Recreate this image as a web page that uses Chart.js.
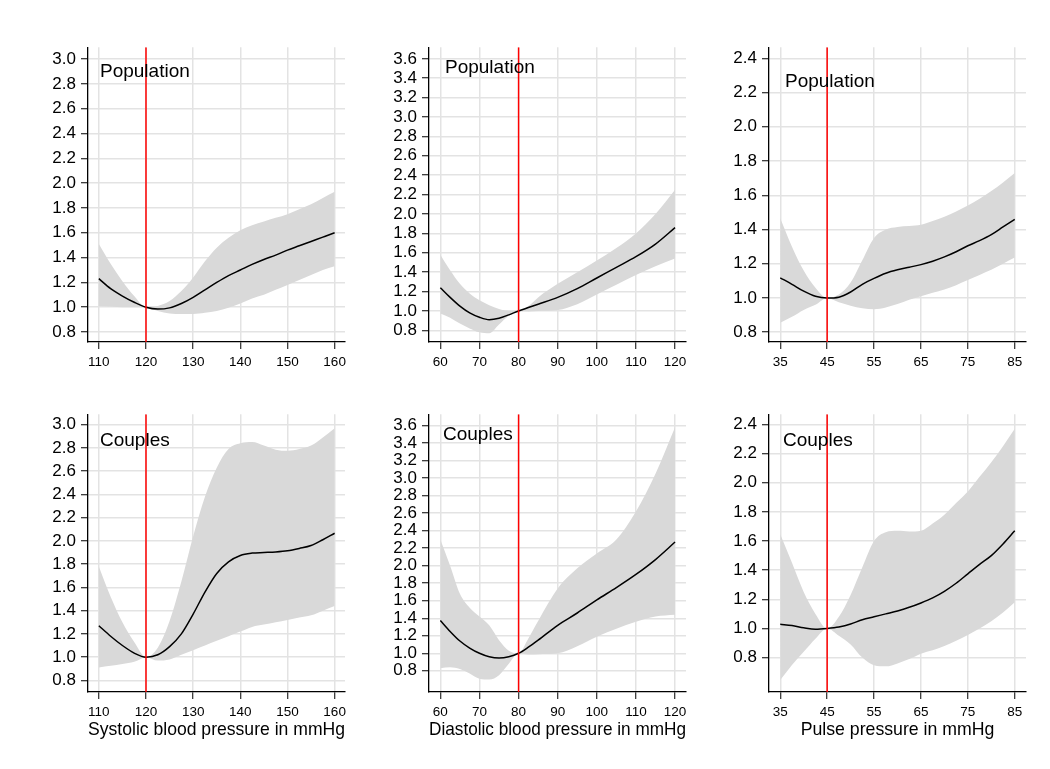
<!DOCTYPE html>
<html>
<head>
<meta charset="utf-8">
<script src="https://cdn.jsdelivr.net/npm/chart.js@4.4.0/dist/chart.umd.min.js"></script>
<style>
  body { margin: 0; background: #fff; }
  .panel { position: absolute; }
</style>
</head>
<body>
<script>
// --- x grids ---
const sbpX = [110, 112.5, 115, 117.5, 120, 122.5, 125, 127.5, 130, 132.5, 135, 137.5, 140, 142.5, 145, 147.5, 150, 152.5, 155, 157.5, 160];
const dbpX = [60, 62.5, 65, 67.5, 70, 72.5, 75, 77.5, 80, 82.5, 85, 90, 95, 100, 105, 110, 115, 120];
const ppX  = [35, 37.5, 40, 42.5, 45, 47.5, 50, 52.5, 55, 57.5, 60, 62.5, 65, 67.5, 70, 72.5, 75, 77.5, 80, 82.5, 85];

// --- systolic, population ---
const sbpPopEst = [1.23, 1.15, 1.09, 1.04, 1.00, 0.985, 0.995, 1.03, 1.08, 1.14, 1.20, 1.255, 1.30, 1.345, 1.385, 1.42, 1.46, 1.495, 1.53, 1.565, 1.60];
const sbpPopHi  = [1.51, 1.35, 1.21, 1.09, 1.00, 1.01, 1.05, 1.13, 1.24, 1.37, 1.48, 1.56, 1.62, 1.66, 1.69, 1.72, 1.75, 1.79, 1.83, 1.88, 1.93];
const sbpPopLo  = [1.01, 1.005, 1.00, 1.00, 1.00, 0.97, 0.95, 0.945, 0.945, 0.955, 0.97, 0.995, 1.03, 1.07, 1.10, 1.14, 1.18, 1.22, 1.26, 1.30, 1.33];
// --- systolic, couples ---
const sbpCplEst = [1.27, 1.18, 1.10, 1.035, 1.00, 1.02, 1.09, 1.20, 1.37, 1.56, 1.72, 1.82, 1.875, 1.895, 1.90, 1.905, 1.915, 1.935, 1.96, 2.01, 2.066];
const sbpCplHi  = [1.78, 1.52, 1.30, 1.13, 1.00, 1.08, 1.31, 1.65, 2.04, 2.38, 2.63, 2.79, 2.84, 2.85, 2.82, 2.785, 2.775, 2.79, 2.82, 2.89, 2.97];
const sbpCplLo  = [0.91, 0.925, 0.94, 0.96, 1.00, 0.97, 0.98, 1.02, 1.06, 1.10, 1.14, 1.18, 1.22, 1.26, 1.28, 1.30, 1.32, 1.34, 1.36, 1.40, 1.44];

// --- diastolic, population ---
const dbpPopEst = [1.24, 1.14, 1.05, 0.98, 0.935, 0.91, 0.925, 0.96, 1.00, 1.035, 1.07, 1.14, 1.23, 1.34, 1.45, 1.56, 1.69, 1.86];
const dbpPopHi  = [1.58, 1.42, 1.28, 1.18, 1.11, 1.06, 1.02, 1.00, 1.00, 1.05, 1.14, 1.28, 1.40, 1.52, 1.65, 1.80, 2.00, 2.25];
const dbpPopLo  = [0.975, 0.93, 0.87, 0.82, 0.78, 0.77, 0.86, 0.95, 1.00, 0.995, 1.00, 1.01, 1.07, 1.17, 1.27, 1.37, 1.46, 1.54];
// --- diastolic, couples ---
const dbpCplEst = [1.375, 1.25, 1.14, 1.06, 1.00, 0.96, 0.945, 0.96, 1.00, 1.07, 1.15, 1.32, 1.46, 1.61, 1.75, 1.90, 2.07, 2.27];
const dbpCplHi  = [2.30, 2.00, 1.68, 1.52, 1.42, 1.32, 1.15, 1.03, 1.00, 1.17, 1.37, 1.74, 1.97, 2.14, 2.30, 2.62, 3.05, 3.58];
const dbpCplLo  = [0.83, 0.84, 0.82, 0.77, 0.71, 0.70, 0.75, 0.88, 1.00, 0.985, 0.99, 1.00, 1.08, 1.19, 1.28, 1.36, 1.42, 1.44];

// --- pulse pressure, population ---
const ppPopEst = [1.118, 1.08, 1.04, 1.01, 1.00, 1.005, 1.035, 1.08, 1.115, 1.145, 1.165, 1.18, 1.195, 1.215, 1.24, 1.27, 1.305, 1.335, 1.37, 1.415, 1.46];
const ppPopHi  = [1.466, 1.30, 1.16, 1.06, 1.00, 1.02, 1.09, 1.22, 1.35, 1.40, 1.415, 1.42, 1.428, 1.45, 1.475, 1.505, 1.54, 1.58, 1.625, 1.675, 1.73];
const ppPopLo  = [0.856, 0.89, 0.93, 0.96, 1.00, 0.975, 0.955, 0.94, 0.935, 0.945, 0.965, 0.99, 1.01, 1.03, 1.05, 1.075, 1.105, 1.135, 1.165, 1.20, 1.236];
// --- pulse pressure, couples ---
const ppCplEst = [1.029, 1.02, 1.005, 0.995, 1.00, 1.01, 1.03, 1.06, 1.08, 1.10, 1.12, 1.145, 1.175, 1.21, 1.255, 1.31, 1.375, 1.44, 1.50, 1.58, 1.67];
const ppCplHi  = [1.647, 1.45, 1.25, 1.10, 1.00, 1.08, 1.23, 1.42, 1.60, 1.66, 1.67, 1.665, 1.67, 1.72, 1.78, 1.86, 1.94, 2.04, 2.14, 2.25, 2.37];
const ppCplLo  = [0.647, 0.75, 0.84, 0.93, 1.00, 0.95, 0.89, 0.80, 0.748, 0.74, 0.76, 0.79, 0.827, 0.85, 0.88, 0.915, 0.955, 1.00, 1.05, 1.11, 1.18];

// --- axes ---
const sbpTicks = [110, 120, 130, 140, 150, 160];
const dbpTicks = [60, 70, 80, 90, 100, 110, 120];
const ppTicks  = [35, 45, 55, 65, 75, 85];
const sbpYTicks = [0.8, 1.0, 1.2, 1.4, 1.6, 1.8, 2.0, 2.2, 2.4, 2.6, 2.8, 3.0];
const dbpYTicks = [0.8, 1.0, 1.2, 1.4, 1.6, 1.8, 2.0, 2.2, 2.4, 2.6, 2.8, 3.0, 3.2, 3.4, 3.6];
const ppYTicks  = [0.8, 1.0, 1.2, 1.4, 1.6, 1.8, 2.0, 2.2, 2.4];
const refLines = [120, 80, 45];
const xTitles = ['Systolic blood pressure in mmHg', 'Diastolic blood pressure in mmHg', 'Pulse pressure in mmHg'];
const groupLabels = ['Population', 'Couples'];

const FONT = '"Liberation Sans", Arial, sans-serif';
Chart.defaults.font.family = FONT;
Chart.defaults.color = '#000';

// panel layout: plot area boxes in page pixels
const colLeft = [88, 429, 769];
const plotW = 257;
const rowTop = [42, 409];
const plotH = [300, 283];
const PADL = 60, PADT = 10, PADR = 20;
const xAxisH = [30, 49];

const panels = [
  { row: 0, col: 0, xs: sbpX, est: sbpPopEst, hi: sbpPopHi, lo: sbpPopLo, xTicks: sbpTicks, yTicks: sbpYTicks, xr: [107.7, 162.2], yr: [0.72, 3.095], lab: [12, 30] },
  { row: 0, col: 1, xs: dbpX, est: dbpPopEst, hi: dbpPopHi, lo: dbpPopLo, xTicks: dbpTicks, yTicks: dbpYTicks, xr: [57.1, 122.8], yr: [0.68, 3.72], lab: [16, 26] },
  { row: 0, col: 2, xs: ppX, est: ppPopEst, hi: ppPopHi, lo: ppPopLo, xTicks: ppTicks, yTicks: ppYTicks, xr: [32.6, 87.4], yr: [0.743, 2.465], lab: [16, 40] },
  { row: 1, col: 0, xs: sbpX, est: sbpCplEst, hi: sbpCplHi, lo: sbpCplLo, xTicks: sbpTicks, yTicks: sbpYTicks, xr: [107.7, 162.2], yr: [0.70, 3.09], lab: [12, 32] },
  { row: 1, col: 1, xs: dbpX, est: dbpCplEst, hi: dbpCplHi, lo: dbpCplLo, xTicks: dbpTicks, yTicks: dbpYTicks, xr: [57.1, 122.8], yr: [0.558, 3.73], lab: [14, 26] },
  { row: 1, col: 2, xs: ppX, est: ppCplEst, hi: ppCplHi, lo: ppCplLo, xTicks: ppTicks, yTicks: ppYTicks, xr: [32.6, 87.4], yr: [0.564, 2.47], lab: [14, 32] }
];

const pts = (xs, ys) => xs.map((x, i) => ({ x: x, y: ys[i] }));

// text label in the top-left corner of each plot
const labelPlugin = {
  id: 'groupLabel',
  afterDraw(chart) {
    const o = chart.options.plugins.groupLabel;
    const a = chart.chartArea;
    const ctx = chart.ctx;
    ctx.save();
    ctx.font = '19px ' + FONT;
    ctx.fillStyle = '#000';
    ctx.textBaseline = 'alphabetic';
    ctx.fillText(o.text, a.left + o.dx, a.top + o.dy);
    ctx.restore();
  }
};

panels.forEach(p => {
  const div = document.createElement('div');
  div.className = 'panel';
  const w = PADL + plotW + PADR;
  const h = PADT + plotH[p.row] + xAxisH[p.row];
  div.style.left = (colLeft[p.col] - PADL) + 'px';
  div.style.top = (rowTop[p.row] - PADT) + 'px';
  div.style.width = w + 'px';
  div.style.height = h + 'px';
  const canvas = document.createElement('canvas');
  div.appendChild(canvas);
  document.body.appendChild(div);

  const ref = refLines[p.col];
  new Chart(canvas.getContext('2d'), {
    type: 'line',
    data: {
      datasets: [
        { data: [{ x: ref, y: p.yr[0] }, { x: ref, y: p.yr[1] }], borderColor: '#ff0000', borderWidth: 1.5, pointRadius: 0, order: 1 },
        { data: pts(p.xs, p.est), borderColor: '#000', borderWidth: 1.5, pointRadius: 0, cubicInterpolationMode: 'monotone', order: 2 },
        { data: pts(p.xs, p.lo), borderWidth: 0, borderColor: 'rgba(0,0,0,0)', pointRadius: 0, cubicInterpolationMode: 'monotone', fill: false, order: 4 },
        { data: pts(p.xs, p.hi), borderWidth: 0, borderColor: 'rgba(0,0,0,0)', pointRadius: 0, cubicInterpolationMode: 'monotone', fill: '-1', backgroundColor: '#d9d9d9', order: 3 }
      ]
    },
    options: {
      responsive: true,
      maintainAspectRatio: false,
      animation: false,
      layout: { padding: { left: 0, top: PADT, right: PADR, bottom: 0 } },
      plugins: {
        legend: { display: false },
        tooltip: { enabled: false },
        groupLabel: { text: groupLabels[p.row], dx: p.lab[0], dy: p.lab[1] }
      },
      scales: {
        x: {
          type: 'linear',
          min: p.xr[0],
          max: p.xr[1],
          afterBuildTicks: axis => { axis.ticks = p.xTicks.map(v => ({ value: v })); },
          afterFit: axis => { axis.height = xAxisH[p.row]; },
          ticks: { autoSkip: false, maxRotation: 0, padding: 5, font: { size: 13.5 }, callback: v => String(v) },
          grid: { color: '#e3e3e3', lineWidth: 1.5, tickColor: '#000', tickWidth: 1, tickLength: 7 },
          border: { color: '#000', width: 1.3 },
          title: { display: p.row === 1, text: xTitles[p.col], font: { size: 17.7 }, padding: { top: 0, bottom: 0 } }
        },
        y: {
          type: 'linear',
          min: p.yr[0],
          max: p.yr[1],
          afterBuildTicks: axis => { axis.ticks = p.yTicks.map(v => ({ value: v })); },
          afterFit: axis => { axis.width = PADL; },
          ticks: { autoSkip: false, padding: 5, font: { size: 17 }, callback: v => v.toFixed(1) },
          grid: { color: '#e3e3e3', lineWidth: 1.5, tickColor: '#000', tickWidth: 1, tickLength: 7 },
          border: { color: '#000', width: 1.3 }
        }
      }
    },
    plugins: [labelPlugin]
  });
});
</script>
</body>
</html>
